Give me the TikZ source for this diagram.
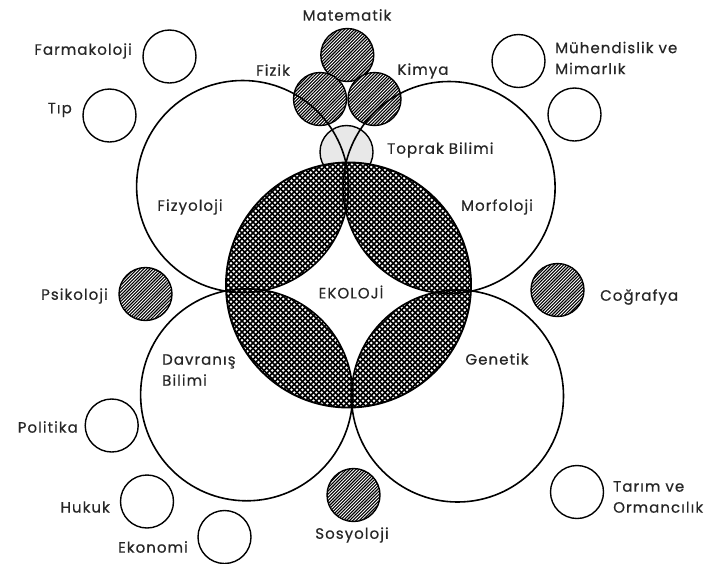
\documentclass[tikz,border=0pt]{standalone}
\usepackage{fontspec}
\setmainfont{Poppins}[FakeBold=0.6, LetterSpace=7]
\usetikzlibrary{patterns}
\pgfdeclarepatternformonly{nelines}{\pgfqpoint{-1pt}{-1pt}}{\pgfqpoint{4.2pt}{4.2pt}}{\pgfqpoint{3.2pt}{3.2pt}}{%
  \pgfsetlinewidth{1.1pt}%
  \pgfpathmoveto{\pgfqpoint{0pt}{0pt}}%
  \pgfpathlineto{\pgfqpoint{3.3pt}{3.3pt}}%
  \pgfusepath{stroke}}
\pgfdeclarepatternformonly{dcross}{\pgfqpoint{-1pt}{-1pt}}{\pgfqpoint{6.5pt}{6.5pt}}{\pgfqpoint{5.5pt}{5.5pt}}{%
  \pgfsetlinewidth{1.5pt}%
  \pgfpathmoveto{\pgfqpoint{0pt}{0pt}}\pgfpathlineto{\pgfqpoint{5.6pt}{5.6pt}}%
  \pgfpathmoveto{\pgfqpoint{0pt}{5.5pt}}\pgfpathlineto{\pgfqpoint{5.6pt}{-0.1pt}}%
  \pgfusepath{stroke}}
\begin{document}
\begin{tikzpicture}[x=1pt,y=-1pt,
  lbl/.style={font=\fontsize{15}{21}\selectfont, inner sep=0pt, text=black!85},
  smallc/.style={circle, draw, line width=1.4pt, minimum size=53pt, inner sep=0pt},
  hatchc/.style={smallc, fill=white, postaction={pattern=nelines}},
  bigline/.style={line width=1.6pt},
]
\useasboundingbox (0,0) rectangle (717,563);
% centres of the big circles
\coordinate (cO) at (348.5,285);
\coordinate (cTL) at (242.6,186.5);
\coordinate (cTR) at (449.1,187.5);
\coordinate (cBL) at (246.6,394.8);
\coordinate (cBR) at (457.5,396);

% Toprak Bilimi
\node[smallc, fill=black!9] (toprak) at (346.5,152) {};

% Matematik, Fizik, Kimya
\node[hatchc] (mat) at (347.3,55) {};
\node[hatchc] (fiz) at (320,99) {};
\node[hatchc] (kim) at (374.5,99) {};

% hatched lenses
\begin{scope}
  \clip (cO) circle (122.5pt);
  \fill[white] (cO) circle (122.5pt);
  \foreach \c in {cTL,cTR,cBL,cBR}
    \fill[pattern=dcross] (\c) circle (106pt);
\end{scope}

% big circles
\foreach \c in {cTL,cTR,cBL,cBR}
  \draw[bigline] (\c) circle (106pt);
\draw[line width=1.9pt] (cO) circle (122.5pt);

% other hatched circles
\node[hatchc] (psi) at (145.5,294) {};
\node[hatchc] (cog) at (557.5,290) {};
\node[hatchc] (sos) at (353.5,495) {};

% plain circles
\node[smallc] (farm) at (169.5,56.5) {};
\node[smallc] (tip) at (109.5,115.5) {};
\node[smallc] (muh) at (518.5,61) {};
\node[smallc] (bos) at (574.5,114.5) {};
\node[smallc] (pol) at (111.7,425.5) {};
\node[smallc] (huk) at (147,501.5) {};
\node[smallc] (eko) at (224.5,537) {};
\node[smallc] (tar) at (577,492) {};

% labels
\node[lbl] (lmat) at (347,15) {Matematik};
\node[lbl] (lfiz) at (273,70) {Fizik};
\node[lbl] (lkim) at (423,71) {Kimya};
\node[lbl, anchor=west] (ltop) at (387,150) {Toprak Bilimi};
\node[lbl] (lfizy) at (190,207) {Fizyoloji};
\node[lbl] (lmor) at (497,207) {Morfoloji};
\node[lbl] (leko) at (351,292) {EKOLOJİ};
\node[lbl, anchor=east] (lfar) at (132,51) {Farmakoloji};
\node[lbl, anchor=east] (ltip) at (72,110) {Tıp};
\node[lbl, anchor=west, align=left] (lmuh) at (555,58) {Mühendislik ve\\Mimarlık};
\node[lbl, anchor=east] (lpsi) at (108,296) {Psikoloji};
\node[lbl, anchor=west] (lcog) at (600,297) {Coğrafya};
\node[lbl, anchor=west, align=left] (ldav) at (162,370) {Davranış\\Bilimi};
\node[lbl] (lgen) at (497,359) {Genetik};
\node[lbl, anchor=east] (lpol) at (78,427) {Politika};
\node[lbl, anchor=east] (lhuk) at (110,507) {Hukuk};
\node[lbl, anchor=east] (leko2) at (188,547) {Ekonomi};
\node[lbl] (lsos) at (352,535) {Sosyoloji};
\node[lbl, anchor=west, align=left] (ltar) at (613,497) {Tarım ve\\Ormancılık};
\end{tikzpicture}
\end{document}
